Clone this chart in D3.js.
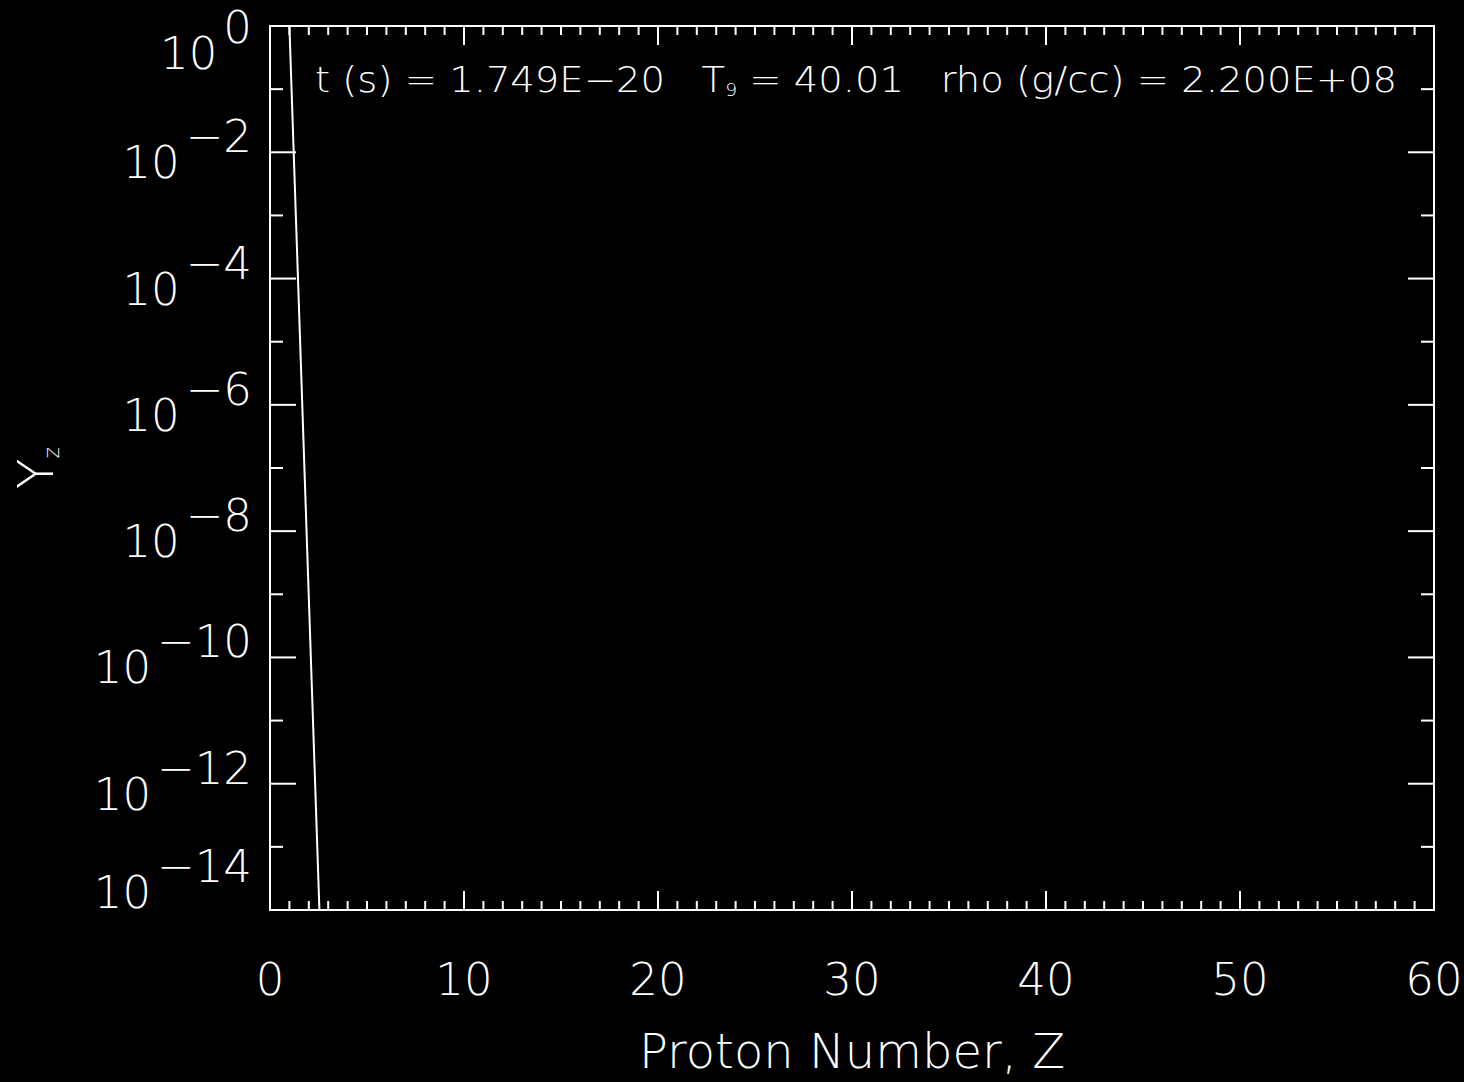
<!DOCTYPE html>
<html>
<head>
<meta charset="utf-8">
<script src="https://cdn.jsdelivr.net/npm/d3@7"></script>
<style>
  html, body { margin: 0; padding: 0; background: #000; }
  svg { display: block; }
  text { fill: #fff; font-family: "DejaVu Sans", "Liberation Sans", sans-serif; font-weight: 200; }
</style>
</head>
<body>
<svg id="chart" width="1464" height="1082"></svg>
<script>
// Abundance by proton number
const protonNumber = [1, 2, 3];
const abundance = [1.0, 9e-10, 8e-19];

// Axis ticks
const xMajorTicks = [0, 10, 20, 30, 40, 50, 60];
const yMajorExponents = [0, -2, -4, -6, -8, -10, -12, -14];

// Annotation values
const timeLabel = "t (s) = ";
const timeValue = "1.749E\u221220";
const tempLabel = "T";
const tempSub = "9";
const tempValue = " = 40.01";
const rhoLabel = "rho (g/cc) = ";
const rhoValue = "2.200E+08";

const W = 1464, H = 1082;
const plot = { left: 270, right: 1434, top: 26, bottom: 910 };

const svg = d3.select("#chart");
svg.append("rect").attr("width", W).attr("height", H).attr("fill", "#000");

const x = d3.scaleLinear().domain([0, 60]).range([plot.left, plot.right]);
const y = d3.scaleLog().domain([1e-14, 1]).range([plot.bottom, plot.top]);

// clip for the data line
svg.append("defs").append("clipPath").attr("id", "plotClip")
  .append("rect")
  .attr("x", plot.left).attr("y", plot.top)
  .attr("width", plot.right - plot.left).attr("height", plot.bottom - plot.top);

// frame
svg.append("rect")
  .attr("x", plot.left).attr("y", plot.top)
  .attr("width", plot.right - plot.left).attr("height", plot.bottom - plot.top)
  .attr("fill", "none").attr("stroke", "#fff").attr("stroke-width", 2);

const tickG = svg.append("g").attr("stroke", "#fff").attr("stroke-width", 2);

// x ticks: major every 10, minor every 1, on bottom and top
const xMinor = d3.range(0, 61, 1);
xMinor.forEach(v => {
  const major = v % 10 === 0;
  const len = major ? 19 : 9;
  const px = x(v);
  tickG.append("line").attr("x1", px).attr("x2", px)
    .attr("y1", plot.bottom).attr("y2", plot.bottom - len);
  tickG.append("line").attr("x1", px).attr("x2", px)
    .attr("y1", plot.top).attr("y2", plot.top + len);
});

// y ticks: major every 2 decades, minor on the odd decades, on left and right
d3.range(0, -15, -1).forEach(e => {
  const major = e % 2 === 0;
  const len = major ? 26 : 13;
  const py = y(Math.pow(10, e));
  tickG.append("line").attr("x1", plot.left).attr("x2", plot.left + len)
    .attr("y1", py).attr("y2", py);
  tickG.append("line").attr("x1", plot.right).attr("x2", plot.right - len)
    .attr("y1", py).attr("y2", py);
});

// x tick labels
svg.append("g").selectAll("text").data(xMajorTicks).join("text")
  .attr("x", d => x(d)).attr("y", 995)
  .attr("text-anchor", "middle")
  .attr("font-size", 45)
  .text(d => d);

// y tick labels as 10^n, kept inside the frame's vertical extent
const yLab = svg.append("g");
yMajorExponents.forEach(e => {
  const py = y(Math.pow(10, e));
  const base = Math.max(69, Math.min(908, py + 26));
  const expStr = e === 0 ? "0" : "\u2212" + Math.abs(e);
  const t = yLab.append("text")
    .attr("x", 252).attr("y", base)
    .attr("text-anchor", "end")
    .attr("font-size", 45);
  t.append("tspan").text("10");
  t.append("tspan").attr("dy", -26).attr("dx", 6).text(expStr);
});

// axis titles
svg.append("text")
  .attr("x", (plot.left + plot.right) / 2).attr("y", 1068)
  .attr("text-anchor", "middle")
  .attr("font-size", 48)
  .attr("textLength", 426).attr("lengthAdjust", "spacingAndGlyphs")
  .text("Proton Number, Z");

const yt = svg.append("text")
  .attr("transform", `translate(53, ${(plot.top + plot.bottom) / 2}) rotate(-90)`)
  .attr("text-anchor", "middle")
  .attr("font-size", 50);
yt.append("tspan").text("Y");
yt.append("tspan").attr("font-size", 22).attr("dy", 6).text("z");

// annotation
const ann = svg.append("text")
  .attr("x", 315).attr("y", 92)
  .attr("font-size", 35)
  .attr("textLength", 1082).attr("lengthAdjust", "spacingAndGlyphs");
ann.append("tspan").text(timeLabel + timeValue + "\u00a0\u00a0\u00a0");
ann.append("tspan").text(tempLabel);
ann.append("tspan").attr("font-size", 17).attr("dy", 4).text(tempSub);
ann.append("tspan").attr("dy", -4).text(tempValue + "\u00a0\u00a0\u00a0" + rhoLabel + rhoValue);

// abundance line
const line = d3.line()
  .x((d, i) => x(protonNumber[i]))
  .y(d => y(d));

svg.append("path")
  .datum(abundance)
  .attr("clip-path", "url(#plotClip)")
  .attr("d", line)
  .attr("fill", "none")
  .attr("stroke", "#fff")
  .attr("stroke-width", 2);
</script>
</body>
</html>
